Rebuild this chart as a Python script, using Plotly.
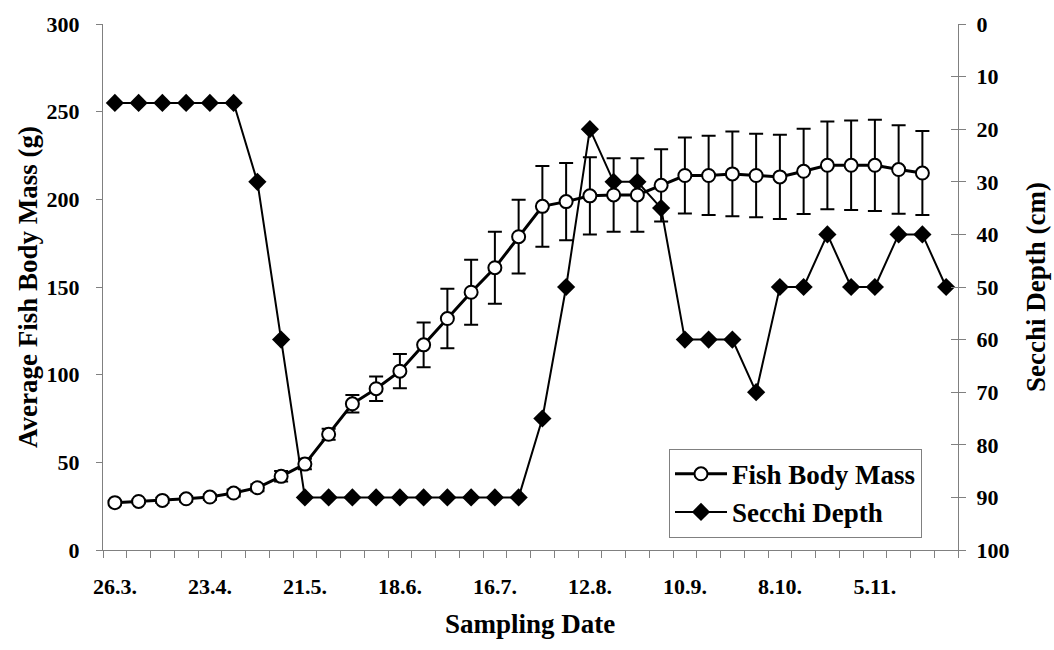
import plotly.graph_objects as go

# Weekly samplings (index 0 = 26.3.)
tick_positions = [0, 4, 8, 12, 16, 20, 24, 28, 32]
tick_labels = ["26.3.", "23.4.", "21.5.", "18.6.", "16.7.", "12.8.", "10.9.", "8.10.", "5.11."]

fish_mass = [27, 27.7, 28.3, 29.2, 30.2, 32.5, 35.5, 42, 49, 66, 83.4, 92, 102, 117, 132,
             147, 161, 178.7, 196, 198.7, 202, 202.5, 202.5, 208, 213.6, 213.6, 214.5,
             213.6, 212.8, 216, 219.4, 219.4, 219.4, 217, 215]
fish_err = [1, 1, 1.5, 1.5, 1.5, 2, 2, 3, 3, 3.1, 5, 7, 9.8, 12.7, 17, 18.5, 20.5, 21,
            23, 22, 22, 21, 21, 20.6, 21.7, 22.6, 24.2, 23.8, 24, 24.3, 25, 25.5, 26, 25.2, 24]
secchi = [15, 15, 15, 15, 15, 15, 30, 60, 90, 90, 90, 90, 90, 90, 90, 90, 90, 90, 75, 50,
          20, 30, 30, 35, 60, 60, 60, 70, 50, 50, 40, 50, 50, 40, 40, 50]

x_fish = list(range(len(fish_mass)))
x_secchi = list(range(len(secchi)))

FONT = "Liberation Serif, Times New Roman, serif"
GRAY = "#808080"

fig = go.Figure()
fig.add_trace(go.Scatter(
    x=x_fish, y=fish_mass, yaxis="y2", name="Fish Body Mass",
    mode="lines+markers",
    line=dict(color="black", width=3),
    marker=dict(symbol="circle", size=13, color="white", line=dict(color="black", width=2)),
    error_y=dict(type="data", array=fish_err, visible=True, color="black", thickness=2, width=7),
))
fig.add_trace(go.Scatter(
    x=x_secchi, y=secchi, yaxis="y", name="Secchi Depth",
    mode="lines+markers",
    line=dict(color="black", width=2),
    marker=dict(symbol="diamond", size=14, color="black"),
))
# invisible helper for cross ticks on the right axis
fig.add_trace(go.Scatter(x=[None], y=[None], yaxis="y3", showlegend=False, hoverinfo="skip"))

tickfont = dict(family=FONT, size=22, color="black", weight="bold")
titlefont = dict(family=FONT, size=27, color="black", weight="bold")

fig.update_layout(
    width=1054, height=650,
    margin=dict(l=103, r=96, t=20, b=100),
    plot_bgcolor="white", paper_bgcolor="white",
    font=dict(family=FONT, color="black", size=22, weight="bold"),
    showlegend=True,
    legend=dict(x=(669 - 103) / 855, y=(550 - 448) / 530, xanchor="left", yanchor="top",
                bordercolor=GRAY, borderwidth=1, bgcolor="white",
                font=titlefont, tracegroupgap=0, itemwidth=52),
    xaxis=dict(range=[-0.5, 35.5], tickmode="array", tickvals=tick_positions,
               ticktext=tick_labels,
               ticks="", showline=True, linecolor=GRAY, linewidth=1, showgrid=False,
               zeroline=False, ticklabelstandoff=17, tickfont=tickfont,
               minor=dict(ticks="outside", tickmode="linear", tick0=-0.5, dtick=1,
                          ticklen=7, tickcolor=GRAY, tickwidth=1, showgrid=False)),
    yaxis=dict(range=[100, 0], side="right",
               ticks="outside", ticklen=7, tickcolor=GRAY, showline=True, linecolor=GRAY,
               showgrid=False, zeroline=False,
               tickmode="array", tickvals=list(range(0, 101, 10)),
               ticklabelstandoff=6, tickfont=tickfont),
    yaxis2=dict(range=[0, 300], side="left", overlaying="y",
                tickmode="array", tickvals=list(range(0, 301, 50)),
                ticks="outside", ticklen=6, tickcolor=GRAY, showline=True, linecolor=GRAY,
                showgrid=False, zeroline=False, ticklabelstandoff=12, tickfont=tickfont),
    yaxis3=dict(range=[100, 0], side="right", overlaying="y",
                tickmode="array", tickvals=list(range(0, 101, 10)),
                ticks="inside", ticklen=7, tickcolor=GRAY, showticklabels=False,
                showline=False, showgrid=False, zeroline=False),
    annotations=[
        dict(text="Average Fish Body Mass (g)", xref="paper", yref="paper",
             x=(28 - 103) / 855, y=0.5, textangle=-90, showarrow=False,
             xanchor="center", yanchor="middle", font=titlefont),
        dict(text="Secchi Depth (cm)", xref="paper", yref="paper",
             x=(1036 - 103) / 855, y=0.5, textangle=-90, showarrow=False,
             xanchor="center", yanchor="middle", font=titlefont),
        dict(text="Sampling Date", xref="paper", yref="paper",
             x=(530 - 103) / 855, y=(550 - 625) / 530, showarrow=False,
             xanchor="center", yanchor="middle", font=titlefont),
    ],
)

fig.write_html("out.html")
